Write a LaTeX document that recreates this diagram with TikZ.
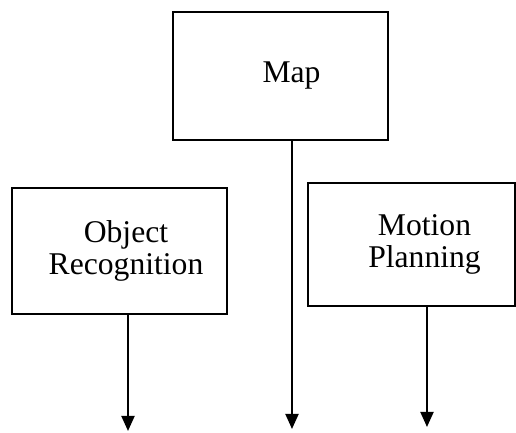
\documentclass[tikz,border=0pt]{standalone}
\usepackage{fontspec}
\setmainfont{Liberation Serif}
\usetikzlibrary{arrows.meta, positioning}

\begin{document}
\begin{tikzpicture}[>=Stealth, font=\fontsize{18}{18}\selectfont]
  \tikzset{
    mbox/.style={
      draw, line width=1.1pt, inner sep=0pt
    },
    mtext/.style={
      align=center, inner sep=0pt
    },
    flow/.style={
      -{Triangle[length=0.3cm, width=0.26cm]}, line width=1.1pt
    }
  }

  \useasboundingbox (0, 0) rectangle (10.32, 8.66);

  % ---- Boxes ----
  \node[mbox, minimum width=4.3cm, minimum height=2.56cm] (map) at (5.61, 7.14) {};
  \node[mtext, xshift=0.22cm] (maptext) at (map.center) {Map};

  \node[mbox, minimum width=4.3cm, minimum height=2.52cm] (objrec) at (2.39, 3.64) {};
  \node[mtext, xshift=0.13cm] (objtext) at (objrec.center) {Object\\Recognition};

  \node[mbox, minimum width=4.14cm, minimum height=2.46cm] (motion) at (8.23, 3.77) {};
  \node[mtext, xshift=0.26cm] (mottext) at (motion.center) {Motion\\Planning};

  % ---- Outputs ----
  \coordinate (objout) at (2.56, 0.04);
  \coordinate (mapout) at (5.84, 0.08);
  \coordinate (motout) at (8.54, 0.12);

  \draw[flow] (objrec.south -| objout) -- (objout);
  \draw[flow] (map.south -| mapout) -- (mapout);
  \draw[flow] (motion.south -| motout) -- (motout);
\end{tikzpicture}
\end{document}
